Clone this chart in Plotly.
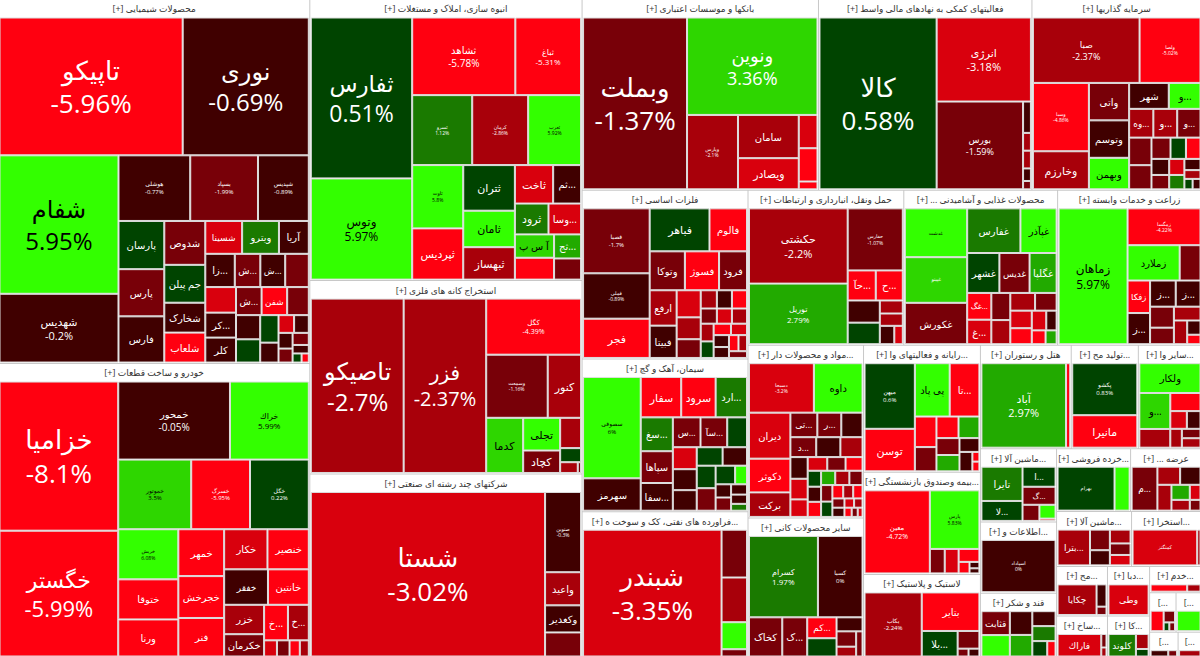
import plotly.graph_objects as go

H = "[+] "
chem_name = H + "محصولات شیمیایی"
chem_area = 114300
chem_t = ["تاپیکو","نوری","شفام","شهدیس","هوشلی","بسپاد","شپدیس","پارسان","پارس","فارس","شدوص","جم پیلن","شخارک","شلعاب","شسینا","ویترو","آریا","زا...","ش...","","","ش...","ش...","شفن","","کر...","کلر","","","","","","","","","","","",""]
chem_v = [24705,17010,16124,8004,4608,4352,3264,2160,2115,2070,1760,1520,1200,1200,1184,1184,960,960,832,768,768,810,702,702,594,750,750,572,550,493,357,270,255,216,192,192,135,80,64]
chem_c = [-5.96,-0.69,5.95,-0.2,-0.77,-1.99,-0.89,0.6,-1.5,-0.4,-1.6,0.7,-0.5,-5.1,-3.4,1.6,-0.6,-0.7,-1.5,-1.6,-3.2,-0.6,-1.4,-5.2,-1.7,-0.5,-0.4,-0.4,0.5,0.5,-0.5,-3.2,-0.5,-0.5,-1.3,-1.5,-0.5,0.6,-4.5]
chem_f = [26,24,24,11,6,6,6,10,10,10,10,10,10,10,9,10,10,10,10,0,0,10,10,10,0,10,10]
chem_p = 7

auto_name = H + "خودرو و ساخت قطعات"
auto_area = 92300
auto_t = ["خزامیا","خگستر","خمحور","خراك","خموتور","خسرگ","خگل","خریش","ختوقا","ورنا","خمهر","خجرخش","فنر","خکار","خنصیر","خفقر","خانتین","خزر","خکرمان","خ...","خ...","","","",""]
auto_v = [17052,14384,8400,5925,4896,3944,3944,2900,2320,2146,2068,1848,1700,1672,1596,1496,1394,1131,858,816,714,196,140,200,160]
auto_c = [-8.1,-5.99,-0.05,5.99,3.5,-5.95,0.22,6.08,-5.2,-4.9,-4.8,-5.1,-5.1,-3.2,-4.7,-0.7,-5.0,-2.4,-1.6,-4.6,-2.2,-1.4,-2.3,-3.2,-4.5]
auto_f = [26,22,10,8,6,6,6,5,10,10,10,10,10,10,10,9,10,10,10,10,10]
auto_p = 8

build_name = H + "انبوه سازی، املاک و مستغلات"
build_area = 77200
build_t = ["ثفارس","وتوس","ثشاهد","ثباغ","ثسرو","کرمان","ثعرب","ثاوت","ثپردیس","ثتران","ثامان","ثبهساز","ثاخت","ثم...","ثرود","وسا...","آ س پ","ثج...","",""]
build_v = [15582,9800,7650,4875,4012,3740,3536,3087,2499,2250,1800,1600,1406,1026,990,960,874,621,819,546]
build_c = [0.51,5.97,-5.78,-5.31,1.12,-2.86,5.92,5.8,-5.2,0.6,5.1,-2.4,-3.3,-0.4,1.3,-3.2,3.7,2.6,-5.1,-1.7]
build_f = [23,12,10,8,5,5,5,5,11,11,11,11,11,10,11,10,10,10]
build_p = 8

mine_name = H + "استخراج کانه های فلزی"
mine_area = 53100
mine_t = ["تاصیکو","فزر","کگل","وسمعت","کنور","کدما","تجلی","کچاد","","","",""]
mine_v = [15000,13338,4929,3599,1952,1890,1120,770,588,273,176,33]
mine_c = [-2.7,-2.37,-4.39,-1.16,-2.5,3.8,5.2,-1.6,-2.4,0.6,-2.3,-1.5]
mine_f = [24,20,7,5,11,11,11,11]
mine_p = 4

multi_name = H + "شرکتهای چند رشته ای صنعتی"
multi_area = 50400
multi_t = ["شستا","صنوین","واعید","وکغدیر",""]
multi_v = [37352,2800,1155,945,840]
multi_c = [-3.02,-0.3,-2.2,-0.5,-1.7]
multi_f = [26,5,10,10,0]
multi_p = 2

bank_name = H + "بانکها و موسسات اعتباری"
bank_area = 45504
bank_t = ["وبملت","ونوین","وپارس","سامان","ویصادر","","",""]
bank_v = [17544,12480,3724,2580,1860,612,612,144]
bank_c = [-1.37,3.36,-2.1,-2.2,-3.1,-3.3,-5.1,-5.2]
bank_f = [26,18,5,10,11]
bank_p = 3

aux_name = H + "فعالیتهای کمکی به نهادهای مالی واسط"
aux_area = 41088
aux_t = ["کالا","انرژی","بورس","","","","",""]
aux_v = [19608,7719,7392,240,136,136,96,64]
aux_c = [0.58,-3.18,-1.59,-0.4,-2.4,-2.4,-0.4,-1.5]
aux_f = [26,11,9]
aux_p = 3

inv_name = H + "سرمایه گذاریها"
inv_area = 32640
inv_t = ["صبا","ولصا","وسبا","وخارزم","واتی","وتوسم","وبهمن","شهر","و...","و...","وه...","و...","","","","","","","","","","","","",""]
inv_v = [6510,3720,3570,1989,1406,1406,1184,960,768,640,650,625,575,504,378,306,289,266,238,228,204,169,132,80,77]
inv_c = [-2.37,-5.02,-4.86,-2.3,-1.6,-0.5,5.1,-0.4,5.2,-2.2,-2.4,-1.6,-1.6,-1.5,-1.5,0.7,-5.0,-0.5,-1.6,-3.2,1.6,-0.5,-2.3,0.5,-0.5]
inv_f = [9,5,5,11,10,10,10,10,10,10,9,9]
inv_p = 3

metal_name = H + "فلزات اساسی"
metal_area = 28220
metal_t = ["فصبا","فملی","فجر","فباهر","فالوم","وتوکا","فسوژ","فرود","ارفع","فبیتا","","","","","","","","","","","","","","","","","",""]
metal_v = [3969,2772,2400,2360,1480,1258,1221,999,875,800,598,483,414,270,252,252,225,210,210,210,196,168,182,168,154,140,126,112]
metal_c = [-1.7,-0.89,-5.3,0.7,-5.2,-1.6,-5.1,-1.7,-2.3,-0.5,-3.1,-2.8,-1.6,-2.3,-0.5,-5.1,-1.5,-3.1,-2.4,-2.2,0.4,-3.0,-5.1,-0.4,-0.6,-5.0,-2.3,-1.5]
metal_f = [6,5,11,11,10,10,10,10,10,10]
metal_p = 2

cem_name = H + "سیمان، آهک و گچ"
cem_area = 25564
cem_t = ["سصوفی","سهرمز","سفار","سرود","ارد...","سغ...","سپاها","سفا...","س...","سآ...","","","","","","","","","","","","","","",""]
cem_v = [5141,1643,1440,1224,1116,957,899,783,728,702,520,462,396,374,374,441,432,195,180,180,420,320,144,130,96]
cem_c = [6.0,-0.6,-5.0,-5.2,1.5,1.6,-1.6,-0.5,-1.7,-1.6,0.5,-3.2,-0.4,0.5,-1.6,-0.4,-0.5,5.2,-0.4,-1.6,0.6,0.6,-0.5,-0.4,1.3]
cem_f = [6,10,11,11,10,10,10,10,9,9]
cem_p = 1

oil_name = H + "فراورده های نفتی، کک و سوخت ه..."
oil_area = 24400
oil_t = ["شبندر","","","",""]
oil_v = [16592,1150,1075,650,175]
oil_c = [-3.35,-1.6,-2.3,5.1,-1.5]
oil_f = [26]
oil_p = 1

trans_name = H + "حمل ونقل، انبارداری و ارتباطات"
trans_area = 24335
trans_t = ["حکشتی","توریل","حفارس","حآ...","ح...","","","","","",""]
trans_v = [7128,5742,3286,810,780,684,665,256,272,288,150]
trans_c = [-2.2,2.79,-1.07,-5.1,-5.0,-0.5,0.5,-0.4,-2.3,-2.4,-3.2]
trans_f = [11,8,5,10,10]
trans_p = 3

food_name = H + "... محصولات غذایی و آشامیدنی"
food_area = 24025
food_t = ["غدشت","غپینو","غکورش","غفارس","غپآذر","غشهر","غدیس","غگلپا","غگ...","غ...","","","","","","","","","",""]
food_v = [2714,2537,2301,2120,1440,1147,1073,962,576,528,459,408,391,336,340,306,255,182,170,136]
food_c = [5.6,3.4,-1.4,1.3,5.4,0.5,-1.5,2.5,-5.1,-3.3,-1.5,-2.4,-2.3,-3.1,-1.5,-5.2,-3.1,-0.6,-4.9,2.6]
food_f = [5,5,10,10,10,10,10,10,10,10]
food_p = 0

agri_name = H + "زراعت و خدمات وابسته"
agri_area = 22475
agri_t = ["زماهان","زمگسا","زملارد","","ز...","زفکا","ز...","ز...","","","","","",""]
agri_v = [8908,2556,1750,700,638,696,667,616,476,375,350,300,180,120]
agri_c = [5.97,-4.22,5.3,-1.5,-0.5,-5.0,-0.4,-0.5,-1.6,-1.5,-2.2,-2.4,-0.3,-5.1]
agri_f = [12,5,10,0,10,10,10,10]
agri_p = 2

pharma_name = H + "مواد و محصولات دار..."
pharma_area = 20124
pharma_t = ["دسبحا","داوه","دیران","دکوثر","برکت","تی...","ر...","د...","","","","","","","","","","","","","","","","","","","","","","","","","","",""]
pharma_v = [2880,2160,1710,1254,912,594,528,462,468,432,396,336,320,272,240,224,208,192,182,182,182,169,182,168,156,130,120,112,100,100,80,70,60,50,40]
pharma_c = [-3.2,5.2,-3.3,-5.1,-2.3,-1.5,-1.6,-1.5,-0.4,-0.5,-2.4,-0.4,-3.2,-3.2,-3.1,-1.6,-5.1,0.6,-0.4,-5.0,2.7,-1.5,-2.3,-1.5,0.6,-5.1,-2.4,-5.0,-1.5,-0.5,-3.1,-2.4,-5.0,-1.5,-3.1]
pharma_f = [5,10,10,10,10,9,9,9]
pharma_p = 1

other_name = H + "سایر محصولات کانی"
other_area = 16263
other_t = ["کسرام","کسبا","کخاک","ک...","کم...","","","","",""]
other_v = [5236,3388,1216,912,572,340,280,500,180,150]
other_c = [1.97,0.0,-1.5,-1.6,-5.0,-0.4,-1.5,0.6,-2.4,-1.6]
other_f = [8,6,10,10,9]
other_p = 2

it_name = H + "رایانه و فعالیتهای وا..."
it_area = 14986
it_t = ["میهن","توسن","پی پاد","تا...","","","","","","","","","",""]
it_v = [2900,1880,1632,1392,580,460,418,396,342,330,242,220,60,60]
it_c = [0.6,-5.3,5.1,-5.0,-5.1,-1.5,-5.0,2.7,-1.5,2.6,-0.4,-0.5,-5.1,-4.6]
it_f = [6,11,10,10]
it_p = 1

ins_name = H + "بیمه وصندوق بازنشستگی..."
ins_area = 12036
ins_t = ["معین","پارس","","","","","",""]
ins_v = [5135,2750,345,322,255,119,60,48]
ins_c = [-4.72,5.83,-1.6,-3.1,-5.1,-5.0,-0.8,-0.5]
ins_f = [7,5]
ins_p = 2

rub_name = H + "لاستیک و پلاستیک"
rub_area = 9794
rub_t = ["بکاب","بتایر","یلا...","","",""]
rub_v = [3000,1820,750,315,70,70]
rub_c = [-2.24,-5.1,0.6,-1.5,-1.6,-0.5]
rub_f = [6,10,10]
rub_p = 1

hotel_name = H + "هتل و رستوران"
hotel_area = 9476
hotel_t = ["آباد",""]
hotel_v = [6480,320]
hotel_c = [2.97,-5.1]
hotel_f = [11]
hotel_p = 1

prod_name = H + "تولید مح..."
prod_area = 7004
prod_t = ["پکشو","مانیرا"]
prod_v = [3072,1920]
prod_c = [0.83,-5.2]
prod_f = [6,11]
prod_p = 1

oth2_name = H + "سایر وا..."
oth2_area = 6592
oth2_t = ["ولکار","و...","","","","","","",""]
oth2_v = [1584,968,504,255,210,476,190,153,153]
oth2_c = [5.3,3.5,-2.4,-3.2,-0.4,-5.1,-2.3,-1.5,-2.2]
oth2_f = [10,10]
oth2_p = 0

mach_name = H + "ماشین آلا..."
mach_area = 5624
mach_t = ["تایرا","لا...","ا...","گ...","","",""]
mach_v = [1250,728,588,528,242,198,33]
mach_c = [1.6,0.6,0.6,-1.6,-1.5,5.2,-5.0]
mach_f = [10,10,9,9]
mach_p = 0

info_name = H + "اطلاعات و..."
info_area = 5472
info_t = ["اسپاداد"]
info_v = [3384]
info_c = [0.0]
info_f = [5]
info_p = 1

sugar_name = H + "قند و شکر"
sugar_area = 4940
sugar_t = ["قثابت","","","","","","",""]
sugar_v = [532,418,380,476,272,272,180,100]
sugar_c = [-1.5,-0.5,2.6,5.3,-0.4,1.6,0.6,-4.8]
sugar_f = [9]
sugar_p = 0

retail_name = H + "خرده فروشی..."
retail_area = 4700
retail_t = ["بهرام",""]
retail_v = [2173,574]
retail_c = [0.6,5.2]
retail_f = [5]
retail_p = 0

sup_name = H + "... عرضه"
sup_area = 4500
sup_t = ["م...","","","","","","",""]
sup_v = [984,357,315,320,240,171,140,100]
sup_c = [-1.5,-2.4,-2.3,-0.5,2.5,-2.3,-3.1,-1.5]
sup_f = [9]
sup_p = 0

mach2_name = H + "ماشین آلا..."
mach2_area = 4144
mach2_t = ["بترا...","","","","",""]
mach2_v = [1023,361,252,266,210,190]
mach2_c = [-2.4,-1.6,-2.3,-0.5,-1.5,-3.1]
mach2_f = [9]
mach2_p = 0

ext_name = H + "استخرا..."
ext_area = 3864
ext_t = ["کمنگنز",""]
ext_v = [1947,99]
ext_c = [-3.2,-2.3]
ext_f = [5]
ext_p = 0

sm1_name = H + "مح..."
sm1_area = 2548
sm1_t = ["چکایا","",""]
sm1_v = [864,160,60]
sm1_c = [-2.3,-0.5,-1.5]
sm1_f = [9]
sm1_p = 0

sm4_name = H + "ساخ..."
sm4_area = 2132
sm4_t = ["فاراك","",""]
sm4_v = [630,45,30]
sm4_c = [-3.2,-1.6,-2.3]
sm4_f = [9]
sm4_p = 0

sm2_name = H + "دبا..."
sm2_area = 2107
sm2_t = ["وطی"]
sm2_v = [936]
sm2_c = [-3.2]
sm2_f = [9]
sm2_p = 0

sm5_name = H + "کا..."
sm5_area = 1763
sm5_t = ["کلوند","",""]
sm5_v = [390,120,60]
sm5_c = [1.6,-2.3,0.6]
sm5_f = [9]
sm5_p = 0

sm3_name = H + "خدم..."
sm3_area = 1377
sm3_t = ["",""]
sm3_v = [66,24]
sm3_c = [-5.1,-2.3]
sm3_f = []
sm3_p = 0

sm6_name = "[..."
sm6_area = 1053
sm6_t = ["","","",""]
sm6_v = [160,80,30,30]
sm6_c = [-5.2,-1.6,0.6,-1.5]
sm6_f = []
sm6_p = 0

sm7_name = "[..."
sm7_area = 1014
sm7_t = [""]
sm7_v = [220]
sm7_c = [5.3]
sm7_f = []
sm7_p = 0

sm8_name = "[..."
sm8_area = 728
sm8_t = ["",""]
sm8_v = [60,30]
sm8_c = [-0.5,-1.6]
sm8_f = []
sm8_p = 0

sm9_name = "[..."
sm9_area = 598
sm9_t = [""]
sm9_v = [70]
sm9_c = [-2.4]
sm9_f = []
sm9_p = 0

sectors = [
    (chem_name,chem_area,chem_t,chem_v,chem_c,chem_f,chem_p),
    (auto_name,auto_area,auto_t,auto_v,auto_c,auto_f,auto_p),
    (build_name,build_area,build_t,build_v,build_c,build_f,build_p),
    (mine_name,mine_area,mine_t,mine_v,mine_c,mine_f,mine_p),
    (multi_name,multi_area,multi_t,multi_v,multi_c,multi_f,multi_p),
    (bank_name,bank_area,bank_t,bank_v,bank_c,bank_f,bank_p),
    (aux_name,aux_area,aux_t,aux_v,aux_c,aux_f,aux_p),
    (inv_name,inv_area,inv_t,inv_v,inv_c,inv_f,inv_p),
    (metal_name,metal_area,metal_t,metal_v,metal_c,metal_f,metal_p),
    (cem_name,cem_area,cem_t,cem_v,cem_c,cem_f,cem_p),
    (oil_name,oil_area,oil_t,oil_v,oil_c,oil_f,oil_p),
    (trans_name,trans_area,trans_t,trans_v,trans_c,trans_f,trans_p),
    (food_name,food_area,food_t,food_v,food_c,food_f,food_p),
    (agri_name,agri_area,agri_t,agri_v,agri_c,agri_f,agri_p),
    (pharma_name,pharma_area,pharma_t,pharma_v,pharma_c,pharma_f,pharma_p),
    (other_name,other_area,other_t,other_v,other_c,other_f,other_p),
    (it_name,it_area,it_t,it_v,it_c,it_f,it_p),
    (ins_name,ins_area,ins_t,ins_v,ins_c,ins_f,ins_p),
    (rub_name,rub_area,rub_t,rub_v,rub_c,rub_f,rub_p),
    (hotel_name,hotel_area,hotel_t,hotel_v,hotel_c,hotel_f,hotel_p),
    (prod_name,prod_area,prod_t,prod_v,prod_c,prod_f,prod_p),
    (oth2_name,oth2_area,oth2_t,oth2_v,oth2_c,oth2_f,oth2_p),
    (mach_name,mach_area,mach_t,mach_v,mach_c,mach_f,mach_p),
    (info_name,info_area,info_t,info_v,info_c,info_f,info_p),
    (sugar_name,sugar_area,sugar_t,sugar_v,sugar_c,sugar_f,sugar_p),
    (retail_name,retail_area,retail_t,retail_v,retail_c,retail_f,retail_p),
    (sup_name,sup_area,sup_t,sup_v,sup_c,sup_f,sup_p),
    (mach2_name,mach2_area,mach2_t,mach2_v,mach2_c,mach2_f,mach2_p),
    (ext_name,ext_area,ext_t,ext_v,ext_c,ext_f,ext_p),
    (sm1_name,sm1_area,sm1_t,sm1_v,sm1_c,sm1_f,sm1_p),
    (sm4_name,sm4_area,sm4_t,sm4_v,sm4_c,sm4_f,sm4_p),
    (sm2_name,sm2_area,sm2_t,sm2_v,sm2_c,sm2_f,sm2_p),
    (sm5_name,sm5_area,sm5_t,sm5_v,sm5_c,sm5_f,sm5_p),
    (sm3_name,sm3_area,sm3_t,sm3_v,sm3_c,sm3_f,sm3_p),
    (sm6_name,sm6_area,sm6_t,sm6_v,sm6_c,sm6_f,sm6_p),
    (sm7_name,sm7_area,sm7_t,sm7_v,sm7_c,sm7_f,sm7_p),
    (sm8_name,sm8_area,sm8_t,sm8_v,sm8_c,sm8_f,sm8_p),
    (sm9_name,sm9_area,sm9_t,sm9_v,sm9_c,sm9_f,sm9_p),
]

def tile_color(c):
    if c >= 4: return "#33ff00"
    if c >= 3: return "#2ed600"
    if c >= 2: return "#22aa00"
    if c >= 1: return "#1a7a00"
    if c > 0: return "#004400"
    if c > -1: return "#400000"
    if c > -2: return "#780008"
    if c > -3: return "#a8000a"
    if c > -4: return "#d9000d"
    return "#ff0010"

ids, labels, parents, values, colors, texts, sizes, fcolors, lw = [], [], [], [], [], [], [], [], []
for si, (name, area, t, v, c, f, p) in enumerate(sectors):
    sid = f"s{si}"
    total = sum(v)
    scale = area / total
    ids.append(sid); labels.append(name); parents.append(""); values.append(area)
    colors.append("#ffffff"); texts.append(name); sizes.append(10.5); fcolors.append("#333333"); lw.append(0)
    for i, (tk, val, ch) in enumerate(zip(t, v, c)):
        ids.append(f"{sid}_{i}")
        labels.append(tk if tk else " ")
        parents.append(sid)
        values.append(val * scale)
        colors.append(tile_color(ch))
        size = f[i] if i < len(f) else 0
        if not tk or not size:
            texts.append("")
        elif i < p:
            texts.append(f"{tk}<br>{ch:g}%")
        else:
            texts.append(tk)
        sizes.append(size or 8)
        fcolors.append("#000000" if ch >= 3.5 else "#ffffff")
        lw.append(1)

fig = go.Figure(go.Treemap(
    ids=ids, labels=labels, parents=parents, values=values,
    branchvalues="total", sort=True,
    text=texts, textinfo="text", textposition="middle center",
    textfont=dict(size=sizes, color=fcolors, family="Open Sans, DejaVu Sans, sans-serif"),
    marker=dict(colors=colors, line=dict(color="#dddddd", width=lw), pad=dict(t=18, l=1, r=1, b=1)),
    tiling=dict(pad=1, packing="squarify", squarifyratio=1),
    pathbar=dict(visible=False), root=dict(color="#c8c8c8"), hoverinfo="skip",
))
fig.update_layout(width=1204, height=676, margin=dict(l=0, r=0, t=0, b=0),
                  paper_bgcolor="#c8c8c8", showlegend=False)
fig.write_html("out.html", config={"staticPlot": True},
               post_script="document.body.style.margin='0';document.body.style.overflow='hidden';"
                           "var d=document.getElementsByClassName('plotly-graph-div')[0];"
                           "d.style.marginTop='-18px';d.style.marginLeft='-2px';")
